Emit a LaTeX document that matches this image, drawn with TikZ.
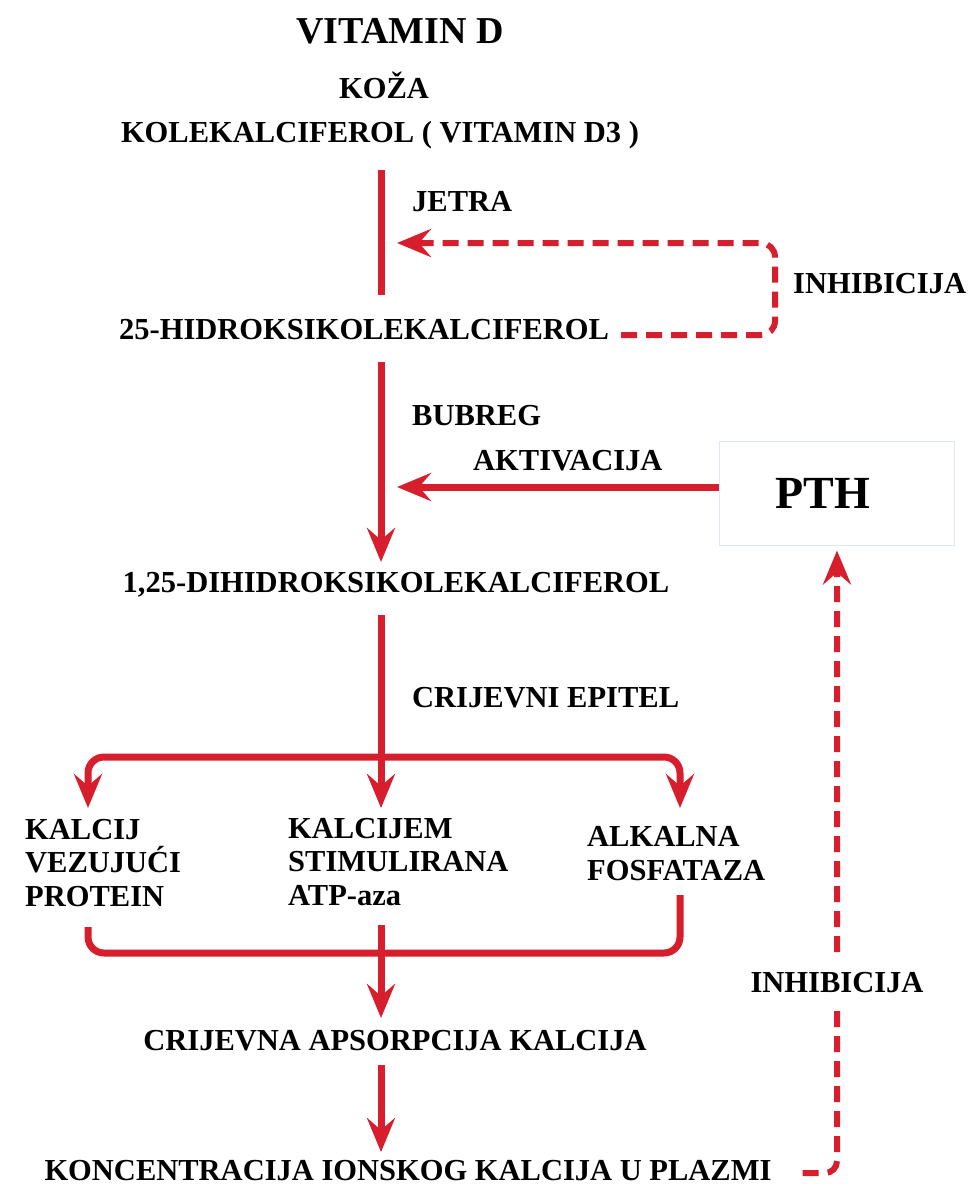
\documentclass[tikz,border=0pt]{standalone}
\usepackage{fontspec}
\setmainfont{Liberation Serif}
\usetikzlibrary{arrows.meta,calc}
\definecolor{arrred}{RGB}{214,30,44}
\definecolor{boxedge}{RGB}{222,233,246}
\begin{document}
\begin{tikzpicture}[x=1pt,y=-1pt,
  lbl/.style={font=\fontsize{30.5}{33.5}\selectfont\bfseries, inner sep=0pt, align=left},
  flow/.style={draw=arrred, line width=7pt},
  tip/.style={-{Stealth[length=34pt,width=28pt,inset=12pt]}},
  dashflow/.style={draw=arrred, line width=6pt, dash pattern=on 16pt off 9pt},
]
\fill[white] (0,0) rectangle (973,1186);
\useasboundingbox (0,0) rectangle (973,1186);

\coordinate (spine) at (381,0);
\coordinate (colL) at (88,0);
\coordinate (colR) at (680,0);
\coordinate (loopR) at (775,243);
\coordinate (loopTip) at (397,243);
\coordinate (pthTip) at (397,487);
\coordinate (split) at (381,757);
\coordinate (merge) at (381,953);

\node[lbl, font=\fontsize{38}{40}\selectfont\bfseries, anchor=base] (title) at (400,43) {VITAMIN D};
\node[lbl, anchor=base] (koza) at (384,98) {KOŽA};
\node[lbl, anchor=base] (kol) at (380,142) {KOLEKALCIFEROL ( VITAMIN D3 )};
\node[lbl, anchor=base west] (jetra) at (412,211) {JETRA};
\node[lbl, anchor=base west] (inh1) at (793,293) {INHIBICIJA};
\node[lbl, anchor=base west] (hid) at (119,339) {25-HIDROKSIKOLEKALCIFEROL};
\node[lbl, anchor=base west] (bubreg) at (412,425) {BUBREG};
\node[lbl, anchor=base west] (akt) at (473,470) {AKTIVACIJA};
\node[draw=boxedge, line width=1pt, fill=white, minimum width=235pt, minimum height=104pt, inner sep=0pt, font=\fontsize{46}{48}\selectfont\bfseries] (pth) at (837,493) {\hspace*{-28pt}PTH};
\node[lbl, anchor=base] (dih) at (396,592) {1,25-DIHIDROKSIKOLEKALCIFEROL};
\node[lbl, anchor=base west] (epitel) at (412,707) {CRIJEVNI EPITEL};
\node[lbl, anchor=base west] (kvp) at (25,906) {KALCIJ\\VEZUJUĆI\\PROTEIN};
\node[lbl, anchor=base west] (kcs) at (288,905) {KALCIJEM\\STIMULIRANA\\ATP-aza};
\node[lbl, anchor=base west] (alk) at (587,880) {ALKALNA\\FOSFATAZA};
\node[lbl, anchor=base] (aps) at (395,1050) {CRIJEVNA APSORPCIJA KALCIJA};
\node[lbl, anchor=base] (kon) at (408,1180) {KONCENTRACIJA IONSKOG KALCIJA U PLAZMI};

\draw[flow] ([yshift=-28pt]spine |- kol.base) -- ([yshift=44pt]spine |- hid.base);
\draw[flow,tip] ([yshift=-23pt]spine |- hid.base) -- ([yshift=30pt]spine |- dih.base);
\draw[dashflow,tip,rounded corners=14pt] ([xshift=12pt,yshift=4pt]hid.base east) -| (loopR) -- (loopTip);
\draw[flow,tip] ([yshift=6pt]pth.west) -- (pthTip);
\draw[flow] ([yshift=-23pt]spine |- dih.base) -- (split);
\draw[flow,tip] (split) -- ([yshift=97pt]spine |- kcs.base);
\draw[flow,tip,rounded corners=16pt] (split) -| ([yshift=98pt]colL |- kvp.base);
\draw[flow,tip,rounded corners=16pt] (split) -| ([yshift=72pt]colR |- alk.base);
\draw[flow,rounded corners=16pt] ([yshift=-21pt]colL |- kvp.base) |- (merge) -| ([yshift=-15pt]colR |- alk.base);
\draw[flow,tip] ([yshift=-20pt]spine |- kcs.base) -- ([yshift=32pt]spine |- aps.base);
\draw[flow,tip] ([yshift=-15pt]spine |- aps.base) -- ([yshift=28pt]spine |- kon.base);
\draw[dashflow,tip,rounded corners=12pt] ([xshift=31pt,yshift=7pt]kon.base east) -| ([yshift=-5pt]pth.south);
\node[lbl, fill=white, minimum height=50pt] (inh2) at (837,983) {INHIBICIJA};
\end{tikzpicture}
\end{document}
